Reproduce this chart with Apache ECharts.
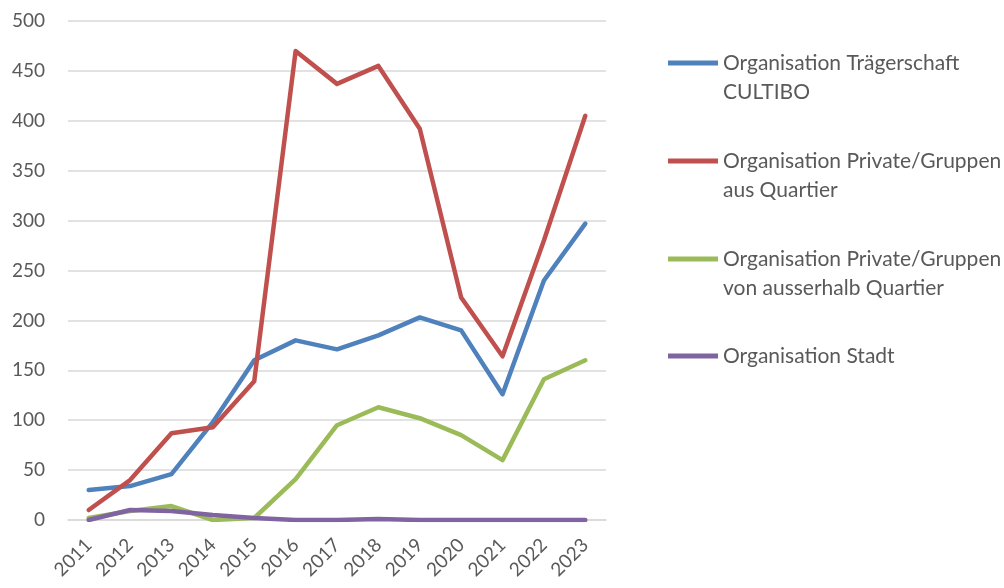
<!DOCTYPE html>
<html>
<head>
<meta charset="utf-8">
<script src="https://cdn.jsdelivr.net/npm/echarts@6/dist/echarts.min.js"></script>
<style>
  html, body { margin: 0; padding: 0; background: #fff; }
  #chart { width: 1004px; height: 588px; }
</style>
</head>
<body>
<div id="chart"></div>
<script>
const years = ['2011', '2012', '2013', '2014', '2015', '2016', '2017', '2018', '2019', '2020', '2021', '2022', '2023'];
const seriesNames = [
  'Organisation Trägerschaft\nCULTIBO',
  'Organisation Private/Gruppen\naus Quartier',
  'Organisation Private/Gruppen\nvon ausserhalb Quartier',
  'Organisation Stadt'
];
const cultibo = [30, 34, 46, 98, 160, 180, 171, 185, 203, 190, 126, 240, 297];
const privatQuartier = [10, 40, 87, 93, 139, 470, 437, 455, 392, 223, 164, 280, 405];
const privatAusserhalb = [2, 9, 14, 0, 2, 41, 95, 113, 102, 85, 60, 141, 160];
const stadt = [0, 10, 9, 5, 2, 0, 0, 1, 0, 0, 0, 0, 0];

const colors = ['#4F81BD', '#C0504D', '#9BBB59', '#8064A2'];
const allValues = [cultibo, privatQuartier, privatAusserhalb, stadt];
const font = 'Lato, "Liberation Sans", sans-serif';

const chart = echarts.init(document.getElementById('chart'));

// one legend per entry; icon sits on the first text row, so two-line names
// get an empty row on top to keep the block centred on the icon
const legendIconY = [63, 161, 259, 356];
const lineH = 29;
const legends = seriesNames.map((name, i) => {
  const twoLines = name.indexOf('\n') >= 0;
  const boxH = twoLines ? lineH * 3 : lineH;
  return {
    data: [name],
    left: 668,
    top: legendIconY[i] - boxH / 2,
    padding: 0,
    icon: 'rect',
    itemWidth: 50,
    itemHeight: 5,
    selectedMode: false,
    formatter: n => (n.indexOf('\n') >= 0 ? ' \n' + n : n),
    textStyle: {
      fontFamily: font,
      fontSize: 21,
      color: '#595959',
      lineHeight: lineH
    }
  };
});

const option = {
  backgroundColor: '#fff',
  animation: false,
  color: colors,
  legend: legends,
  grid: {
    left: 68,
    right: 398,
    top: 21,
    bottom: 68
  },
  xAxis: {
    type: 'category',
    data: years,
    boundaryGap: true,
    axisLine: { show: true, lineStyle: { color: '#d9d9d9', width: 1.5 } },
    axisTick: { show: false },
    axisLabel: {
      rotate: 45,
      margin: 22,
      fontFamily: font,
      fontSize: 19,
      color: '#595959'
    }
  },
  yAxis: {
    type: 'value',
    min: 0,
    max: 500,
    interval: 50,
    axisLine: { show: false },
    axisTick: { show: false },
    splitLine: { lineStyle: { color: '#d9d9d9', width: 1.5 } },
    axisLabel: {
      margin: 23,
      fontFamily: font,
      fontSize: 19,
      color: '#595959'
    }
  },
  series: seriesNames.map((name, i) => ({
    name: name,
    type: 'line',
    data: allValues[i],
    symbol: 'none',
    lineStyle: { width: 4.5, color: colors[i], cap: 'round', join: 'round' },
    itemStyle: { color: colors[i] }
  }))
};

chart.setOption(option);
</script>
</body>
</html>
